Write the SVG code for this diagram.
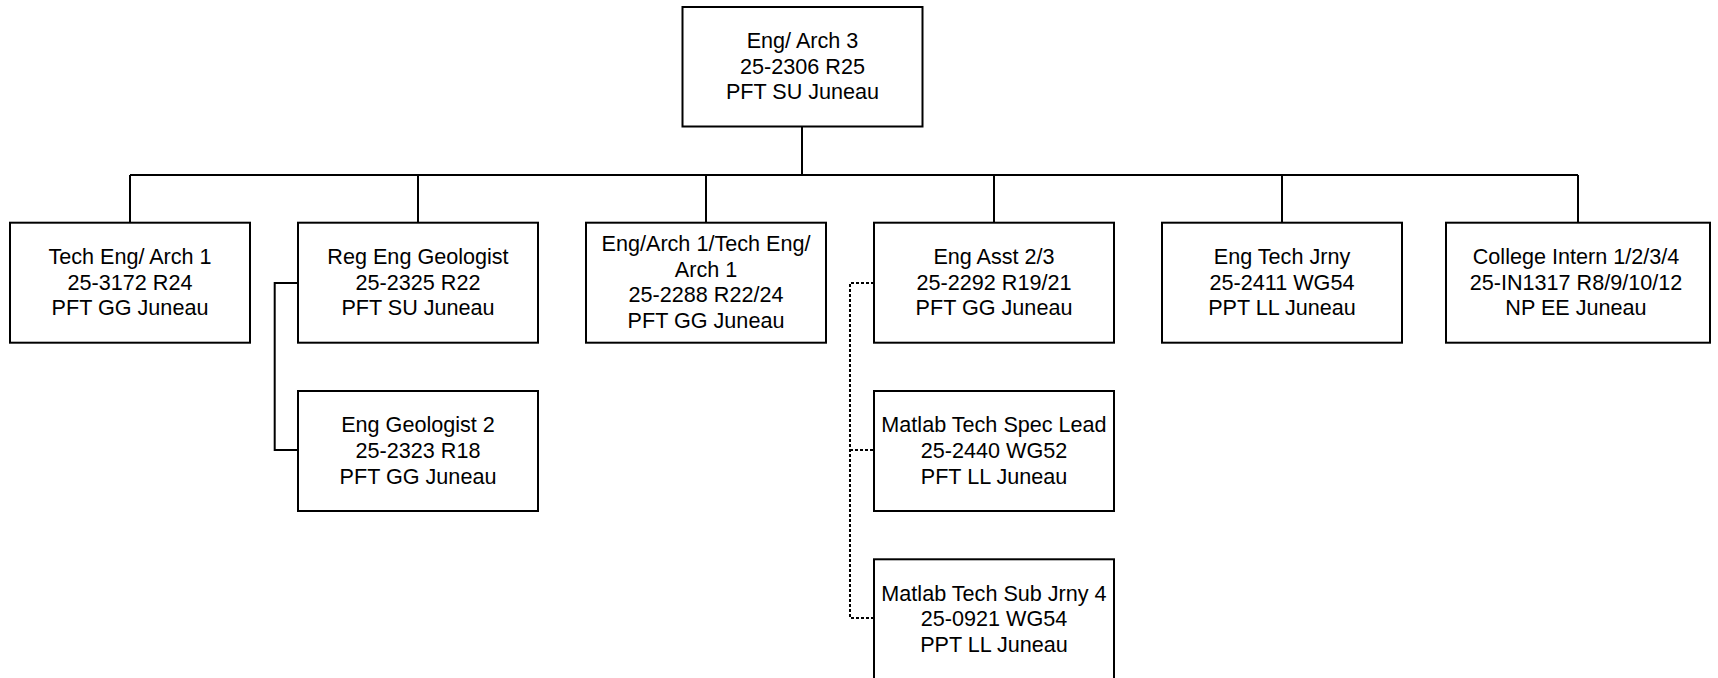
<svg xmlns="http://www.w3.org/2000/svg" width="1718" height="678" viewBox="0 0 1718 678">
<style>
.box{fill:#fff;stroke:#000;stroke-width:2}
.ln{fill:none;stroke:#000;stroke-width:2}
.dot{fill:none;stroke:#000;stroke-width:2;stroke-dasharray:3 2}
text{font-family:"Liberation Sans",Arial,sans-serif;font-size:21.6px;fill:#000;text-anchor:middle}
</style>
<rect width="1718" height="678" fill="#fff"/>
<g id="connectors">
<path class="ln" d="M802 126.5V175M130 175H1578M130 175V222.7M418 175V222.7M706 175V222.7M994 175V222.7M1282 175V222.7M1578 175V222.7"/>
<path class="ln" d="M298 283H274.7V450H298"/>
<path class="dot" d="M874 283H850V618H874M850 450H874"/>
</g>
<g id="n0"><rect class="box" x="682.5" y="7" width="240" height="119.5"/><text x="802.5" y="48">Eng/ Arch 3<tspan x="802.5" dy="25.7">25-2306 R25</tspan><tspan x="802.5" dy="25.7">PFT SU Juneau</tspan></text></g>
<g id="n1"><rect class="box" x="10" y="222.7" width="240" height="120"/><text x="130" y="264">Tech Eng/ Arch 1<tspan x="130" dy="25.7">25-3172 R24</tspan><tspan x="130" dy="25.7">PFT GG Juneau</tspan></text></g>
<g id="n2"><rect class="box" x="298" y="222.7" width="240" height="120"/><text x="418" y="264">Reg Eng Geologist<tspan x="418" dy="25.7">25-2325 R22</tspan><tspan x="418" dy="25.7">PFT SU Juneau</tspan></text></g>
<g id="n2a"><rect class="box" x="298" y="391" width="240" height="120"/><text x="418" y="432.3">Eng Geologist 2<tspan x="418" dy="25.7">25-2323 R18</tspan><tspan x="418" dy="25.7">PFT GG Juneau</tspan></text></g>
<g id="n3"><rect class="box" x="586" y="222.7" width="240" height="120"/><text x="706" y="251">Eng/Arch 1/Tech Eng/<tspan x="706" dy="25.7">Arch 1</tspan><tspan x="706" dy="25.7">25-2288 R22/24</tspan><tspan x="706" dy="25.7">PFT GG Juneau</tspan></text></g>
<g id="n4"><rect class="box" x="874" y="222.7" width="240" height="120"/><text x="994" y="264">Eng Asst 2/3<tspan x="994" dy="25.7">25-2292 R19/21</tspan><tspan x="994" dy="25.7">PFT GG Juneau</tspan></text></g>
<g id="n4a"><rect class="box" x="874" y="391" width="240" height="120"/><text x="994" y="432.3">Matlab Tech Spec Lead<tspan x="994" dy="25.7">25-2440 WG52</tspan><tspan x="994" dy="25.7">PFT LL Juneau</tspan></text></g>
<g id="n4b"><rect class="box" x="874" y="559.3" width="240" height="120"/><text x="994" y="600.6">Matlab Tech Sub Jrny 4<tspan x="994" dy="25.7">25-0921 WG54</tspan><tspan x="994" dy="25.7">PPT LL Juneau</tspan></text></g>
<g id="n5"><rect class="box" x="1162" y="222.7" width="240" height="120"/><text x="1282" y="264">Eng Tech Jrny<tspan x="1282" dy="25.7">25-2411 WG54</tspan><tspan x="1282" dy="25.7">PPT LL Juneau</tspan></text></g>
<g id="n6"><rect class="box" x="1446" y="222.7" width="264" height="120"/><text x="1576" y="264">College Intern 1/2/3/4<tspan x="1576" dy="25.7">25-IN1317 R8/9/10/12</tspan><tspan x="1576" dy="25.7">NP EE Juneau</tspan></text></g>
</svg>
